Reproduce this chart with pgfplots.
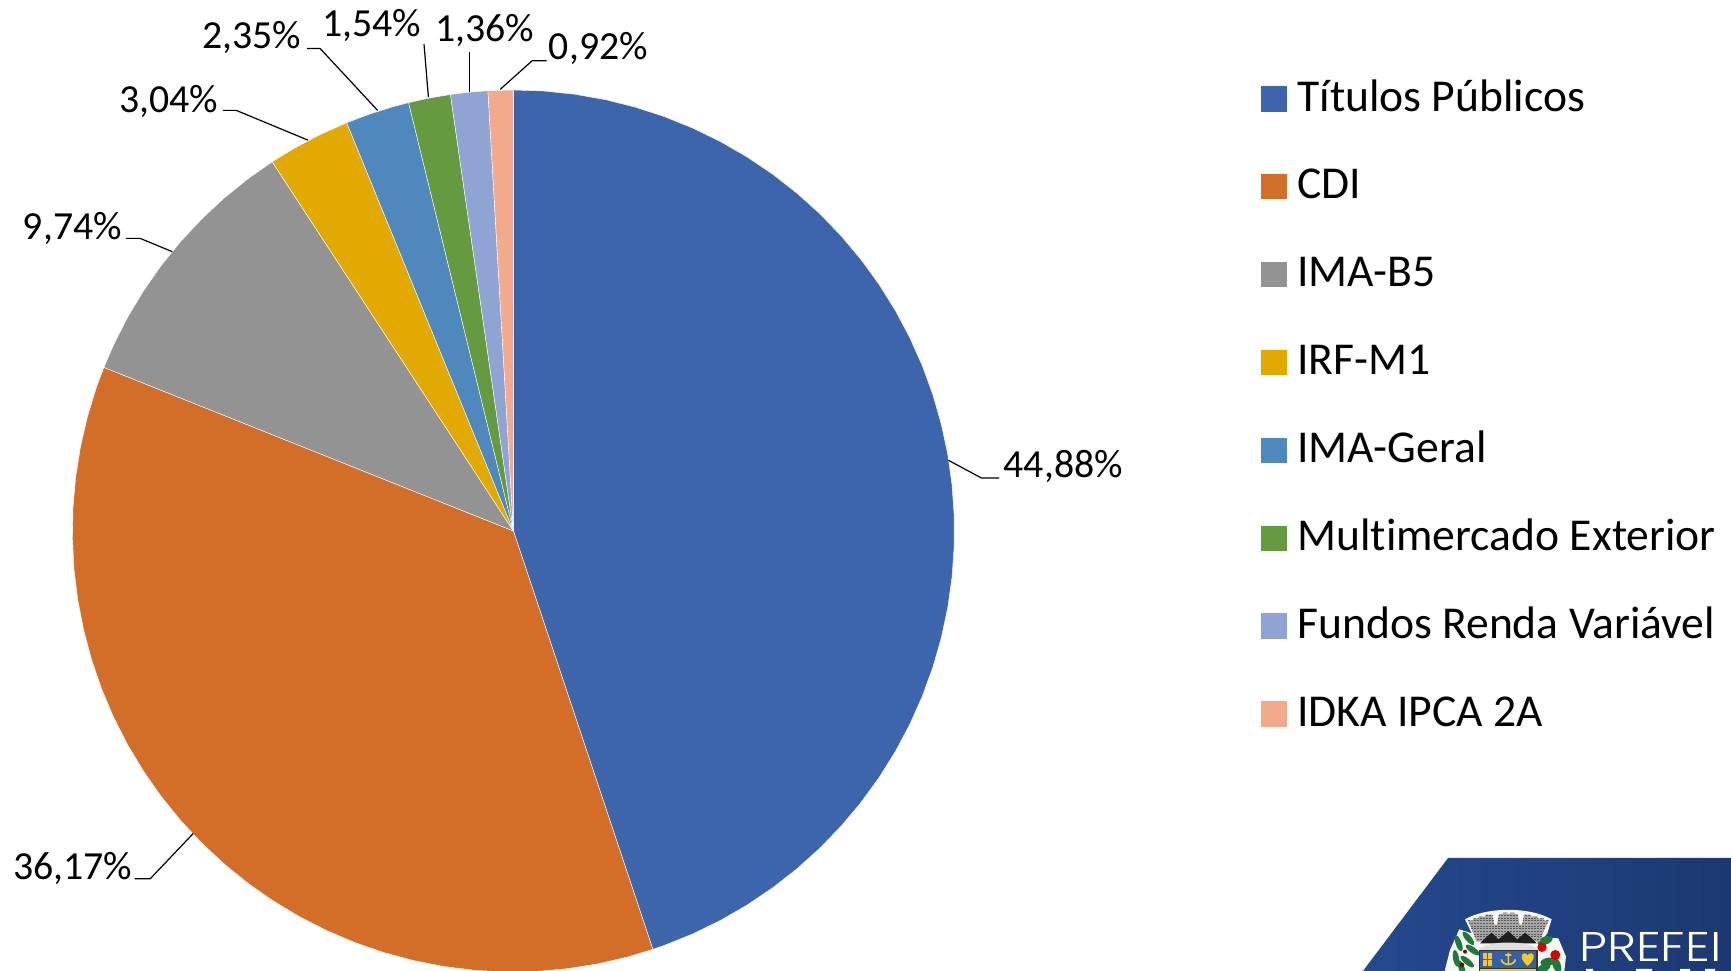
\documentclass[border=0pt]{standalone}
\usepackage{fontspec}
\setmainfont[Ligatures=NoCommon]{Carlito}
\newfontfamily\logofont[FakeStretch=1.19]{Poppins Light}
\usepackage{pgfplots}
\pgfplotsset{compat=1.18}
\usepgfplotslibrary{polar}
\definecolor{c1}{HTML}{3D65AB}
\definecolor{c2}{HTML}{D36E29}
\definecolor{c3}{HTML}{939393}
\definecolor{c4}{HTML}{E2A900}
\definecolor{c5}{HTML}{4F88BC}
\definecolor{c6}{HTML}{659A41}
\definecolor{c7}{HTML}{90A4D4}
\definecolor{c8}{HTML}{F2A98C}
\definecolor{logoL}{HTML}{24498F}
\definecolor{logoR}{HTML}{1C3871}
\definecolor{leaf}{HTML}{1F7A3A}
\definecolor{crestY}{HTML}{F5C92E}
\definecolor{crestB}{HTML}{3460A8}
\newcommand{\lab}{\fontsize{39.8}{44}\selectfont}
\newcommand{\leg}{\fontsize{45.6}{50}\selectfont}
\begin{document}
\begin{tikzpicture}
\useasboundingbox (0,0) rectangle (1731pt,971pt);
\begin{axis}[
  at={(0pt,0pt)},anchor=south west,
  scale only axis,width=1731pt,height=971pt,
  xmin=-513.4,xmax=1217.6,ymin=-440,ymax=531,
  hide axis,clip mode=global,
  legend style={at={(axis cs:747.6,449.9)},anchor=north west,draw=none,fill=none,
    font=\leg,row sep=47.9pt,column sep=10.4pt,inner sep=0pt,outer sep=0pt,
    nodes={inner sep=0pt,outer sep=0pt,text height=30pt,text depth=10pt}},
  legend cell align=left,
  legend image code/.code={\fill[#1,draw=none] (0pt,-10.5pt) rectangle (26pt,15pt);},
  every axis plot/.append style={line width=0.4pt,draw=white,data cs=polar},
]
\addplot[fill=c1] coordinates {(0,0) (90,441) (86,441) (82,441) (78,441) (74,441) (70,441) (66,441) (62,441) (58,441) (54,441) (50,441) (46,441) (42,441) (38,441) (34,441) (30,441) (26,441) (22,441) (18,441) (14,441) (10,441) (6,441) (2,441) (-2,441) (-6,441) (-10,441) (-14,441) (-18,441) (-22,441) (-26,441) (-30,441) (-34,441) (-38,441) (-42,441) (-46,441) (-50,441) (-54,441) (-58,441) (-62,441) (-66,441) (-70,441) (-71.568,441) (0,0)};
\addlegendentry{Títulos Públicos}
\addplot[fill=c2] coordinates {(0,0) (-71.568,441) (-75,441) (-79,441) (-83,441) (-87,441) (-91,441) (-95,441) (-99,441) (-103,441) (-107,441) (-111,441) (-115,441) (-119,441) (-123,441) (-127,441) (-131,441) (-135,441) (-139,441) (-143,441) (-147,441) (-151,441) (-155,441) (-159,441) (-163,441) (-167,441) (-171,441) (-175,441) (-179,441) (-183,441) (-187,441) (-191,441) (-195,441) (-199,441) (-201.78,441) (0,0)};
\addlegendentry{CDI}
\addplot[fill=c3] coordinates {(0,0) (-201.78,441) (-205,441) (-209,441) (-213,441) (-217,441) (-221,441) (-225,441) (-229,441) (-233,441) (-236.844,441) (0,0)};
\addlegendentry{IMA-B5}
\addplot[fill=c4] coordinates {(0,0) (-236.844,441) (-240,441) (-244,441) (-247.788,441) (0,0)};
\addlegendentry{IRF-M1}
\addplot[fill=c5] coordinates {(0,0) (-247.788,441) (-251,441) (-254,441) (-256.248,441) (0,0)};
\addlegendentry{IMA-Geral}
\addplot[fill=c6] coordinates {(0,0) (-256.248,441) (-259,441) (-261.792,441) (0,0)};
\addlegendentry{Multimercado Exterior}
\addplot[fill=c7] coordinates {(0,0) (-261.792,441) (-264,441) (-266.688,441) (0,0)};
\addlegendentry{Fundos Renda Variável}
\addplot[fill=c8] coordinates {(0,0) (-266.688,441) (-270,441) (0,0)};
\addlegendentry{IDKA IPCA 2A}
% leader lines
\addplot[forget plot,draw=black,line width=1.2pt,data cs=cart] coordinates {(435,70.7) (468,53) (485.8,53)};
\addplot[forget plot,draw=black,line width=1.2pt,data cs=cart] coordinates {(-320.2,-302.5) (-363.2,-347.8) (-378.7,-347.8)};
\addplot[forget plot,draw=black,line width=1.2pt,data cs=cart] coordinates {(-341.1,279.3) (-373.2,292.6) (-387.5,292.6)};
\addplot[forget plot,draw=black,line width=1.2pt,data cs=cart] coordinates {(-205.3,390.8) (-277.1,420.6) (-290.4,420.6)};
\addplot[forget plot,draw=black,line width=1.2pt,data cs=cart] coordinates {(-135.8,420.6) (-193.2,482.4) (-206.4,482.4)};
\addplot[forget plot,draw=black,line width=1.2pt,data cs=cart] coordinates {(-85,433.9) (-89.4,486.9)};
\addplot[forget plot,draw=black,line width=1.2pt,data cs=cart] coordinates {(-44.2,439.4) (-44.2,479.1)};
\addplot[forget plot,draw=black,line width=1.2pt,data cs=cart] coordinates {(-13.2,441.6) (18.8,470.3) (33.1,470.3)};
% data labels
\node[font=\lab,inner sep=0pt,anchor=west] at (axis cs:490.2,64.5) {44,88\%};
\node[font=\lab,inner sep=0pt,anchor=east] at (axis cs:-380.9,-337) {36,17\%};
\node[font=\lab,inner sep=0pt,anchor=east] at (axis cs:-391.4,303) {9,74\%};
\node[font=\lab,inner sep=0pt,anchor=east] at (axis cs:-294.9,429.7) {3,04\%};
\node[font=\lab,inner sep=0pt,anchor=east] at (axis cs:-212.1,493.1) {2,35\%};
\node[font=\lab,inner sep=0pt,anchor=east] at (axis cs:-92.2,506) {1,54\%};
\node[font=\lab,inner sep=0pt,anchor=east] at (axis cs:21,501) {1,36\%};
\node[font=\lab,inner sep=0pt,anchor=east] at (axis cs:134.6,482.2) {0,92\%};
\end{axis}
% logo, in reference pixel coordinates
\begin{scope}
\clip (0,0) rectangle (1731pt,971pt);
\begin{scope}[x=1pt,y=-1pt,yshift=971pt]
\shade[left color=logoL,right color=logoR] (1448,858) -- (1363,971) -- (1731,971) -- (1731,858) -- cycle;
\node[white,anchor=base west,inner sep=0pt,font=\logofont\fontsize{41.5}{46}\selectfont] at (1579,962) {PREFEI};
\fill[white] (1586,969) rectangle (1593,972) (1636,969) rectangle (1652,972) (1680,969) rectangle (1690,972) (1705,969) rectangle (1715,972);
\end{scope}
% crest, in zoomed coordinates
\begin{scope}[x=0.33333pt,y=-0.33333pt,shift={(1430pt,71pt)}]
\fill[white!94!gray] (105,58) .. controls (170,20) and (300,20) .. (365,58) -- (352,100) -- (342,112) -- (385,115) -- (408,170) -- (402,220) -- (42,220) -- (60,150) -- (88,88) -- (125,100) -- cycle;
% leaves
\foreach \a/\b/\r in {115/115/-50,128/150/-35,86/130/-70,78/175/-80,112/185/-40,95/205/-70}
  {\fill[leaf,rotate around={\r:(\a,\b)}] (\a,\b) ellipse[x radius=25,y radius=9];}
\foreach \a/\b/\r in {345/122/20,355/185/10,380/195/-70,340/205/30}
  {\fill[leaf,rotate around={\r:(\a,\b)}] (\a,\b) ellipse[x radius=24,y radius=12];}
\fill[red!85!black] (336,142) circle[radius=14];
\fill[red!85!black] (376,165) circle[radius=15];
\fill[red!50!black] (96,195) circle[radius=7];
\fill[red!50!black] (105,155) circle[radius=6];
% crown
\def\crown{(113,60) -- (128,62) -- (130,54) -- (145,56) -- (147,48) -- (165,50) -- (167,44) -- (187,44) -- (193,74) -- (201,74) -- (207,42) -- (218,42) -- (219,37) -- (232,37) -- (233,42) -- (240,42) -- (241,37) -- (253,37) -- (254,42) -- (263,42) -- (268,74) -- (276,74) -- (282,44) -- (302,44) -- (304,50) -- (322,48) -- (324,56) -- (340,54) -- (342,62) -- (357,60) -- (340,95) -- (330,125) -- (140,125) -- (128,95) -- cycle}
\fill[gray!70] \crown;
\begin{scope}
\clip \crown;
\foreach \v in {46,54,62,70,78,86,94,102,110,118}
  {\draw[black!65,line width=0.5pt,dash pattern=on 1.5pt off 1.5pt] (105,\v) -- (365,\v);}
\end{scope}
\fill[black!88] (150,130) -- (165,115) -- (185,98) -- (205,118) -- (235,93) -- (262,118) -- (285,98) -- (305,115) -- (320,130) -- cycle;
\fill[gray!25] (148,150) .. controls (165,120) and (305,120) .. (322,150) -- cycle;
% shield
\fill[black!80] (146,150) rectangle (323,213);
\fill[crestB] (150,154) rectangle (319,204);
\fill[crestY] (150,207) rectangle (319,213);
% cross
\fill[crestY] (158,160) rectangle (186,198);
\draw[crestB,line width=0.5pt] (172,160) -- (172,198) (158,179) -- (186,179);
% anchor
\draw[crestY,line width=1.6pt] (235,158) -- (235,196) (214,178) .. controls (216,198) and (254,198) .. (256,178) (226,165) -- (244,165);
% heart
\fill[crestY] (293,198) .. controls (272,180) and (270,162) .. (282,160) .. controls (288,159) and (292,163) .. (293,166) .. controls (294,163) and (298,159) .. (304,160) .. controls (316,162) and (314,180) .. (293,198) -- cycle;
\end{scope}
\end{scope}
\end{tikzpicture}
\end{document}
